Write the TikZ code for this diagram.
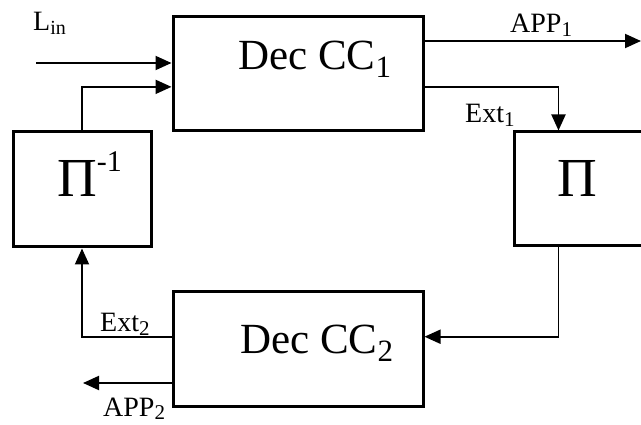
\documentclass[tikz,border=0pt]{standalone}
\usepackage{fontspec}
\setmainfont{Liberation Serif}
\usetikzlibrary{arrows.meta,calc}
\newcommand\mysub[3]{\raisebox{#1}{\fontsize{#2}{#2}\selectfont #3}}
\begin{document}
\begin{tikzpicture}[x=1pt,y=-1pt,
  box/.style={draw,line width=3pt,minimum width=#1,minimum height=114pt,inner sep=0pt},
  arr/.style={line width=1.9pt,-{Triangle[length=16pt,width=14pt]}},
  big/.style={anchor=base west,inner sep=0pt,font=\fontsize{43}{48}\selectfont},
  pifont/.style={anchor=base west,inner sep=0pt,font=\fontsize{55}{60}\selectfont},
  lbl/.style={anchor=base west,inner sep=0pt,font=\fontsize{28}{30}\selectfont}]
\useasboundingbox (0,0) rectangle (641,425);
\clip (0,0) rectangle (641,425);
% boxes
\node[box=250pt] (dec1) at (298,74) {};
\node[box=250pt] (dec2) at (298,349) {};
\node[box=138pt,minimum height=115pt] (pinv) at (82,189.5) {};
\node[box=156pt] (pi) at (592,189) {};
% box texts
\node[big] (dec1t) at (238,70) {Dec CC\mysub{-8pt}{31}{1}};
\node[big] (dec2t) at (240,353) {Dec CC\mysub{-8pt}{31}{2}};
\node[pifont] (pinvt) at (57,197) {Π\mysub{25pt}{30}{-1}};
\node[pifont] (pit) at (557,197) {Π};
% labels
\node[lbl] (linl) at (33,31) {L\mysub{-4pt}{20}{in}};
\node[lbl] (app1l) at (510,33) {APP\mysub{-4pt}{21}{1}};
\node[lbl] (ext1l) at (465,123) {Ext\mysub{-4pt}{21}{1}};
\node[lbl] (ext2l) at (100,331) {Ext\mysub{-4pt}{21}{2}};
\node[lbl] (app2l) at (103,416) {APP\mysub{-3pt}{21}{2}};
% free ends
\coordinate (lin) at (36,63);
\coordinate (app1end) at (641,41);
\coordinate (app2end) at (83,383);
% connectors
\draw[arr] (lin) -- (lin -| dec1.west);
\draw[arr] (pinv.north) |- ($(dec1.north west)!0.61!(dec1.south west)$);
\draw[arr] (app1end -| dec1.east) -- (app1end);
\draw[arr] ($(dec1.north east)!0.61!(dec1.south east)$) -| ($(pi.north west)+(46,0)$);
\draw[arr] ($(pi.south west)+(46,0)$) |- ($(dec2.north east)!0.395!(dec2.south east)$);
\draw[arr] ($(dec2.north west)!0.395!(dec2.south west)$) -| (pinv.south);
\draw[arr] (app2end -| dec2.west) -- (app2end);
\end{tikzpicture}
\end{document}
